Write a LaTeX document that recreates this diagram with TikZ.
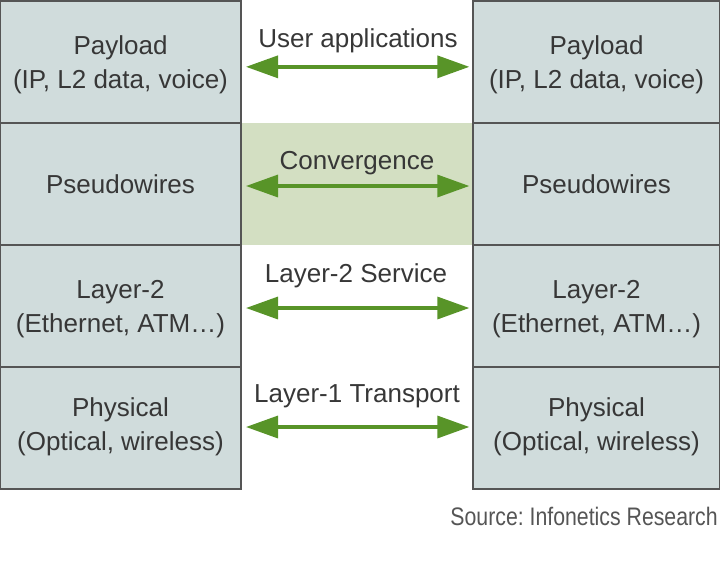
\documentclass[tikz,border=0pt]{standalone}
\usepackage{fontspec}
\setmainfont{Liberation Sans}
\newfontfamily\condfont{Liberation Sans}[FakeStretch=0.84]
\usetikzlibrary{arrows.meta}

\definecolor{boxfill}{RGB}{208,220,220}
\definecolor{boxline}{RGB}{85,85,85}
\definecolor{bandfill}{RGB}{211,223,194}
\definecolor{arrowgreen}{RGB}{88,148,40}
\definecolor{txtgray}{RGB}{55,55,55}

\tikzset{
  layerbox/.style={draw=boxline, line width=1.5pt, fill=boxfill, inner sep=0pt,
    minimum height=91.5pt},
  leftbox/.style={layerbox, minimum width=180.75pt},
  rightbox/.style={layerbox, minimum width=185.25pt},
  lbl/.style={inner sep=0pt, align=center, text=txtgray,
    font=\fontsize{19.5}{25.5}\selectfont},
  link/.style={draw=arrowgreen, line width=2.5pt,
    {Triangle[length=24pt,width=16.5pt]}-{Triangle[length=24pt,width=16.5pt]}}
}

\begin{document}
\begin{tikzpicture}[x=0.75pt,y=0.75pt,yscale=-1,xscale=1]
	\useasboundingbox (0,0) rectangle (720,569);
	
	%Shape: Rectangle [id:band] 
	\fill [bandfill] (241,123) rectangle (473,245);
	
	% left stack
	\node [leftbox] (payloadL) at (120.5,61.5) {};
	\node [leftbox] (pwL) at (120.5,184) {};
	\node [leftbox] (ltwoL) at (120.5,306) {};
	\node [leftbox] (physL) at (120.5,428) {};
	% right stack
	\node [rightbox] (payloadR) at (596.5,61.5) {};
	\node [rightbox] (pwR) at (596.5,184) {};
	\node [rightbox] (ltwoR) at (596.5,306) {};
	\node [rightbox] (physR) at (596.5,428) {};
	
	% box texts
	\node [lbl] (payloadLtxt) at (120.5,65) {Payload\\(IP, L2 data, voice)};
	\node [lbl] (pwLtxt) at (120.5,184) {Pseudowires};
	\node [lbl] (ltwoLtxt) at (120.5,309) {Layer-2\\(Ethernet, ATM\ldots)};
	\node [lbl] (physLtxt) at (120.5,427) {Physical\\(Optical, wireless)};
	\node [lbl] (payloadRtxt) at (596.5,65) {Payload\\(IP, L2 data, voice)};
	\node [lbl] (pwRtxt) at (596.5,184) {Pseudowires};
	\node [lbl] (ltwoRtxt) at (596.5,309) {Layer-2\\(Ethernet, ATM\ldots)};
	\node [lbl] (physRtxt) at (596.5,427) {Physical\\(Optical, wireless)};
	
	% Text Node
	\node [lbl] (userapp) at (358,41) {User applications};
	% Text Node
	\node [lbl] (conv) at (357,163) {Convergence};
	% Text Node
	\node [lbl] (ltwosvc) at (356,276) {Layer-2 Service};
	% Text Node
	\node [lbl] (lonetr) at (357,396) {Layer-1 Transport};
	
	%Straight Lines 
	\draw [link] ([xshift=3pt,yshift=4pt]payloadL.east) -- ([xshift=-2pt,yshift=4pt]payloadR.west);
	\draw [link] ([xshift=3pt,yshift=1.5pt]pwL.east) -- ([xshift=-2pt,yshift=1.5pt]pwR.west);
	\draw [link] ([xshift=3pt,yshift=1.5pt]ltwoL.east) -- ([xshift=-2pt,yshift=1.5pt]ltwoR.west);
	\draw [link] ([xshift=3pt,yshift=-0.75pt]physL.east) -- ([xshift=-2pt,yshift=-0.75pt]physR.west);
	
	% Text Node
	\node [anchor=east, inner sep=0pt, text=txtgray!85, font=\condfont\fontsize{19}{22}\selectfont] (source) at (718,516) {Source:\ Infonetics Research};
	
\end{tikzpicture}
\end{document}
